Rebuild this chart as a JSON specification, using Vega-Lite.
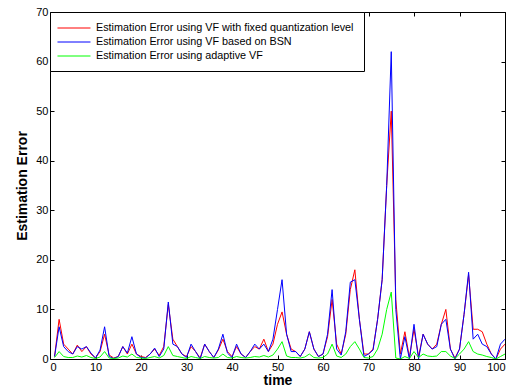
{
  "$schema": "https://vega.github.io/schema/vega-lite/v6.json",
  "width": 455,
  "height": 347,
  "autosize": {"type": "none"},
  "padding": {"left": 50, "top": 12, "right": 5, "bottom": 33},
  "background": "white",
  "config": {
    "font": "Liberation Sans",
    "view": {"stroke": "black", "strokeWidth": 1},
    "axis": {"grid": false, "domain": false, "labelColor": "black", "labelFontSize": 11, "tickColor": "black", "tickSize": -4, "titleColor": "black", "titleFontWeight": "bold", "titleFontSize": 14}
  },
  "data": {
    "values": [
      {"t":1,"fixed":0.5,"bsn":0.5,"adaptive":0.3},
      {"t":2,"fixed":8,"bsn":6.5,"adaptive":1.5},
      {"t":3,"fixed":3,"bsn":2.5,"adaptive":0.5},
      {"t":4,"fixed":2,"bsn":1.5,"adaptive":0.3},
      {"t":5,"fixed":1,"bsn":1,"adaptive":0.3},
      {"t":6,"fixed":2.8,"bsn":2.5,"adaptive":0.6},
      {"t":7,"fixed":1.5,"bsn":2,"adaptive":0.4},
      {"t":8,"fixed":2.5,"bsn":2.5,"adaptive":0.7},
      {"t":9,"fixed":1,"bsn":1.2,"adaptive":0.3},
      {"t":10,"fixed":0.2,"bsn":0.2,"adaptive":0.1},
      {"t":11,"fixed":1.5,"bsn":1.8,"adaptive":0.4},
      {"t":12,"fixed":5,"bsn":6.5,"adaptive":1.5},
      {"t":13,"fixed":0.8,"bsn":0.5,"adaptive":0.2},
      {"t":14,"fixed":0.2,"bsn":0.1,"adaptive":0.1},
      {"t":15,"fixed":0.5,"bsn":0.5,"adaptive":0.2},
      {"t":16,"fixed":2.5,"bsn":2.5,"adaptive":0.6},
      {"t":17,"fixed":1,"bsn":1.2,"adaptive":0.4},
      {"t":18,"fixed":3,"bsn":4.5,"adaptive":1},
      {"t":19,"fixed":1,"bsn":1,"adaptive":0.3},
      {"t":20,"fixed":0.5,"bsn":0.3,"adaptive":0.2},
      {"t":21,"fixed":0.3,"bsn":0.2,"adaptive":0.1},
      {"t":22,"fixed":1,"bsn":1,"adaptive":0.3},
      {"t":23,"fixed":2,"bsn":2.2,"adaptive":0.5},
      {"t":24,"fixed":0.7,"bsn":0.5,"adaptive":0.2},
      {"t":25,"fixed":2.5,"bsn":2,"adaptive":0.7},
      {"t":26,"fixed":11,"bsn":11.5,"adaptive":2.5},
      {"t":27,"fixed":4,"bsn":3,"adaptive":0.7},
      {"t":28,"fixed":2.5,"bsn":2.5,"adaptive":0.5},
      {"t":29,"fixed":1,"bsn":1,"adaptive":0.3},
      {"t":30,"fixed":0.5,"bsn":0.3,"adaptive":0.1},
      {"t":31,"fixed":2.5,"bsn":3,"adaptive":0.5},
      {"t":32,"fixed":1.5,"bsn":1.5,"adaptive":0.3},
      {"t":33,"fixed":0.2,"bsn":0,"adaptive":0.1},
      {"t":34,"fixed":3,"bsn":3,"adaptive":0.5},
      {"t":35,"fixed":1.5,"bsn":1.5,"adaptive":0.3},
      {"t":36,"fixed":0.3,"bsn":0.3,"adaptive":0.2},
      {"t":37,"fixed":1.8,"bsn":2,"adaptive":0.3},
      {"t":38,"fixed":4,"bsn":5,"adaptive":1},
      {"t":39,"fixed":1.5,"bsn":1.2,"adaptive":0.3},
      {"t":40,"fixed":0.5,"bsn":0.3,"adaptive":0.2},
      {"t":41,"fixed":2.5,"bsn":3,"adaptive":0.5},
      {"t":42,"fixed":1,"bsn":1,"adaptive":0.3},
      {"t":43,"fixed":0.3,"bsn":0.3,"adaptive":0.2},
      {"t":44,"fixed":1.5,"bsn":1.5,"adaptive":0.3},
      {"t":45,"fixed":2.5,"bsn":3,"adaptive":0.5},
      {"t":46,"fixed":2,"bsn":2,"adaptive":0.4},
      {"t":47,"fixed":4,"bsn":3,"adaptive":0.7},
      {"t":48,"fixed":1.5,"bsn":1.5,"adaptive":0.4},
      {"t":49,"fixed":3,"bsn":4,"adaptive":0.8},
      {"t":50,"fixed":7,"bsn":10,"adaptive":2},
      {"t":51,"fixed":9.5,"bsn":16,"adaptive":3.5},
      {"t":52,"fixed":5,"bsn":5,"adaptive":0.6},
      {"t":53,"fixed":2,"bsn":1.5,"adaptive":0.3},
      {"t":54,"fixed":1.5,"bsn":1.5,"adaptive":0.3},
      {"t":55,"fixed":0.5,"bsn":0.5,"adaptive":0.2},
      {"t":56,"fixed":2,"bsn":2,"adaptive":0.4},
      {"t":57,"fixed":5.5,"bsn":5.5,"adaptive":1},
      {"t":58,"fixed":2,"bsn":2,"adaptive":0.3},
      {"t":59,"fixed":0.5,"bsn":0.5,"adaptive":0.2},
      {"t":60,"fixed":1,"bsn":1,"adaptive":0.3},
      {"t":61,"fixed":4.5,"bsn":5,"adaptive":1},
      {"t":62,"fixed":12,"bsn":14,"adaptive":3},
      {"t":63,"fixed":3,"bsn":2,"adaptive":0.6},
      {"t":64,"fixed":1,"bsn":0.8,"adaptive":0.3},
      {"t":65,"fixed":5,"bsn":5.5,"adaptive":1},
      {"t":66,"fixed":14,"bsn":15.5,"adaptive":2.5},
      {"t":67,"fixed":18,"bsn":16,"adaptive":3.5},
      {"t":68,"fixed":8,"bsn":8,"adaptive":2},
      {"t":69,"fixed":1,"bsn":0.5,"adaptive":0.3},
      {"t":70,"fixed":1,"bsn":1,"adaptive":0.2},
      {"t":71,"fixed":2,"bsn":1.8,"adaptive":0.5},
      {"t":72,"fixed":8,"bsn":8,"adaptive":2},
      {"t":73,"fixed":16,"bsn":16,"adaptive":5},
      {"t":74,"fixed":35,"bsn":35,"adaptive":10},
      {"t":75,"fixed":50,"bsn":62,"adaptive":13.5},
      {"t":76,"fixed":12,"bsn":10,"adaptive":0.2},
      {"t":77,"fixed":1,"bsn":0,"adaptive":0},
      {"t":78,"fixed":5.5,"bsn":4.5,"adaptive":0.5},
      {"t":79,"fixed":0.3,"bsn":0,"adaptive":0.1},
      {"t":80,"fixed":6,"bsn":7,"adaptive":1.5},
      {"t":81,"fixed":0.5,"bsn":0,"adaptive":0.3},
      {"t":82,"fixed":5,"bsn":5,"adaptive":1},
      {"t":83,"fixed":3,"bsn":3,"adaptive":0.6},
      {"t":84,"fixed":2,"bsn":2,"adaptive":0.5},
      {"t":85,"fixed":3,"bsn":2.5,"adaptive":0.6},
      {"t":86,"fixed":7,"bsn":7,"adaptive":1.5},
      {"t":87,"fixed":10,"bsn":8,"adaptive":1.5},
      {"t":88,"fixed":2,"bsn":2,"adaptive":0.6},
      {"t":89,"fixed":0.2,"bsn":0,"adaptive":0.1},
      {"t":90,"fixed":2,"bsn":2,"adaptive":1},
      {"t":91,"fixed":9,"bsn":9,"adaptive":2},
      {"t":92,"fixed":17,"bsn":17.5,"adaptive":3.5},
      {"t":93,"fixed":6,"bsn":4,"adaptive":1.5},
      {"t":94,"fixed":6,"bsn":5,"adaptive":1},
      {"t":95,"fixed":5.5,"bsn":3,"adaptive":0.8},
      {"t":96,"fixed":3,"bsn":2.5,"adaptive":0.5},
      {"t":97,"fixed":1,"bsn":1,"adaptive":0.3},
      {"t":98,"fixed":0,"bsn":0,"adaptive":0},
      {"t":99,"fixed":2,"bsn":3,"adaptive":0.5},
      {"t":100,"fixed":3,"bsn":4,"adaptive":1}
    ]
  },
  "transform": [
    {"fold": ["fixed", "bsn", "adaptive"], "as": ["series", "value"]}
  ],
  "layer": [
    {
      "mark": {"type": "line", "strokeWidth": 1, "clip": true},
      "encoding": {
        "x": {
          "field": "t", "type": "quantitative",
          "scale": {"domain": [0, 100], "nice": false},
          "axis": {"values": [0,10,20,30,40,50,60,70,80,90,100], "title": "time", "labelPadding": 6, "titlePadding": 1}
        },
        "y": {
          "field": "value", "type": "quantitative",
          "scale": {"domain": [0, 70], "nice": false},
          "axis": {"values": [0,10,20,30,40,50,60,70], "title": "Estimation Error", "labelPadding": 6, "titlePadding": 6}
        },
        "color": {
          "field": "series", "type": "nominal",
          "scale": {"domain": ["fixed", "bsn", "adaptive"], "range": ["#ff0000", "#0000ff", "#00ff00"]},
          "legend": {
            "orient": "top-left",
            "offset": 0,
            "title": null,
            "fillColor": "white",
            "strokeColor": "black",
            "padding": 10,
            "symbolType": "M-1.55,0H4.45",
            "symbolSize": 121,
            "symbolStrokeWidth": 1,
            "labelFontSize": 10.8,
            "labelOffset": 24,
            "labelColor": "black",
            "labelLimit": 400,
            "rowPadding": 3,
            "labelExpr": "datum.value == 'fixed' ? 'Estimation Error using VF with fixed quantization level' : datum.value == 'bsn' ? 'Estimation Error using VF based on BSN' : 'Estimation Error using adaptive VF'"
          }
        }
      }
    },
    {
      "mark": {"type": "line", "opacity": 0},
      "encoding": {
        "x": {
          "field": "t", "type": "quantitative",
          "axis": {"orient": "top", "values": [0,10,20,30,40,50,60,70,80,90,100], "labels": false, "title": null}
        },
        "y": {
          "field": "value", "type": "quantitative",
          "axis": {"orient": "right", "values": [0,10,20,30,40,50,60,70], "labels": false, "title": null}
        },
        "detail": {"field": "series"}
      }
    }
  ],
  "resolve": {"axis": {"x": "independent", "y": "independent"}}
}
